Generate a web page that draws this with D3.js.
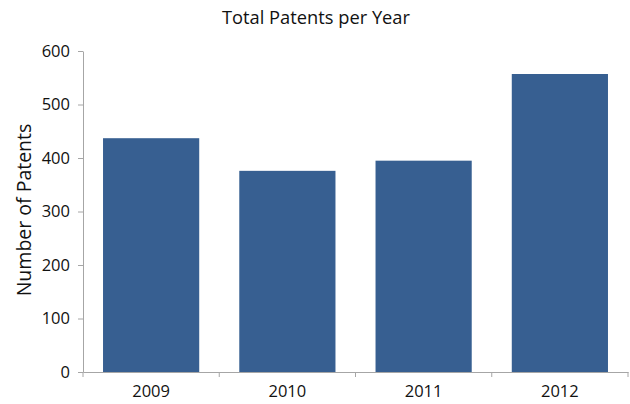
<!DOCTYPE html>
<html>
<head>
<meta charset="utf-8">
<script src="https://cdn.jsdelivr.net/npm/d3@7"></script>
<style>
  body { margin: 0; background: #fff; }
  text { font-family: "Open Sans", "Liberation Sans", sans-serif; fill: #111; }
</style>
</head>
<body>
<script>
// chart data
var years = ["2009", "2010", "2011", "2012"];
var patents = [437, 376, 395, 557];
var yTicks = [0, 100, 200, 300, 400, 500, 600];

var width = 630;
var height = 404;
var margin = {top: 51, right: 2, bottom: 32, left: 83};

var svg = d3.select("body").append("svg")
    .attr("width", width)
    .attr("height", height);

var x = d3.scaleBand()
    .domain(years)
    .range([margin.left, width - margin.right])
    .paddingInner(0.294)
    .paddingOuter(0.147);

var y = d3.scaleLinear()
    .domain([0, 600])
    .range([height - margin.bottom, margin.top]);

// bars
svg.selectAll("rect")
    .data(patents)
  .enter().append("rect")
    .attr("x", function(d, i) { return x(years[i]); })
    .attr("y", function(d) { return y(d); })
    .attr("width", x.bandwidth())
    .attr("height", function(d) { return y(0) - y(d); })
    .attr("fill", "#375f91");

// y axis
var yAxis = svg.append("g")
    .attr("transform", "translate(" + margin.left + ",0)")
    .call(d3.axisLeft(y).tickValues(yTicks).tickSize(5).tickPadding(8).tickSizeOuter(0));
yAxis.select(".domain").attr("stroke", "#a6a6a6");
yAxis.selectAll(".tick line").attr("stroke", "#a6a6a6");
yAxis.selectAll("text").style("font-size", "16.5px").attr("fill", "#111");

// x axis, ticks sit at the category boundaries
var xAxis = svg.append("g")
    .attr("transform", "translate(0," + y(0) + ")")
    .call(d3.axisBottom(x).tickSize(0).tickPadding(13));
xAxis.select(".domain").attr("stroke", "#a6a6a6");
xAxis.selectAll("text").style("font-size", "16.5px").attr("fill", "#111");

var r = x.range();
var bounds = d3.range(years.length + 1).map(function(i) {
  return r[0] + i * (r[1] - r[0]) / years.length;
});
xAxis.selectAll(".sep")
    .data(bounds)
  .enter().append("line")
    .attr("class", "sep")
    .attr("x1", function(d) { return d; })
    .attr("x2", function(d) { return d; })
    .attr("y1", 0)
    .attr("y2", 5)
    .attr("stroke", "#a6a6a6");

// title
svg.append("text")
    .attr("x", 316)
    .attr("y", 24)
    .attr("text-anchor", "middle")
    .style("font-size", "18.3px")
    .text("Total Patents per Year");

// y axis title
svg.append("text")
    .attr("transform", "translate(31,210) rotate(-90)")
    .attr("text-anchor", "middle")
    .style("font-size", "19.5px")
    .text("Number of Patents");
</script>
</body>
</html>
